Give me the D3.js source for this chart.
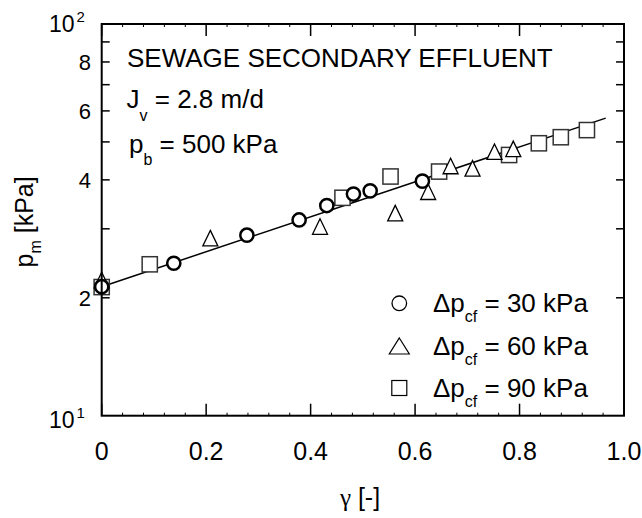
<!DOCTYPE html>
<html>
<head>
<meta charset="utf-8">
<script src="https://cdn.jsdelivr.net/npm/d3@7"></script>
<style>
  html, body { margin: 0; padding: 0; background: #fff; }
  svg { display: block; }
  text { font-family: "Liberation Sans", Arial, Helvetica, sans-serif; fill: #000; }
</style>
</head>
<body>
<svg id="chart" width="642" height="518"></svg>
<script>
// ---------------- data ----------------
// Δp_cf = 30 kPa (circles)
const circleX = [0, 0.138, 0.278, 0.378, 0.431, 0.482, 0.514, 0.614];
const circleY = [21.35, 24.5, 28.9, 31.6, 34.4, 36.8, 37.5, 39.7];
// Δp_cf = 60 kPa (triangles)
const triangleX = [0, 0.208, 0.418, 0.562, 0.625, 0.668, 0.710, 0.752, 0.788];
const triangleY = [22.2, 28.4, 30.4, 32.9, 37.3, 43.4, 42.8, 47.2, 48.0];
// Δp_cf = 90 kPa (squares)
const squareX = [0, 0.092, 0.461, 0.553, 0.646, 0.780, 0.837, 0.879, 0.929];
const squareY = [21.3, 24.35, 36.0, 40.8, 42.0, 46.3, 49.6, 51.4, 53.6];
// fitted line (end points)
const fitX = [0, 0.965];
const fitY = [21.35, 57.5];

// axes
const xMajorTicks = [0, 0.2, 0.4, 0.6, 0.8, 1.0];
const xTickLabels = ["0", "0.2", "0.4", "0.6", "0.8", "1.0"];
const xMinorTicks = [0.04, 0.08, 0.12, 0.16, 0.24, 0.28, 0.32, 0.36, 0.44, 0.48, 0.52, 0.56,
                     0.64, 0.68, 0.72, 0.76, 0.84, 0.88, 0.92, 0.96];
const yTicks = [20, 30, 40, 50, 60, 70, 80, 90];
const yLabelValues = [20, 40, 60, 80];
const yLabelTexts = ["2", "4", "6", "8"];

const legendLabels = ["30 kPa", "60 kPa", "90 kPa"];
const legendShapes = ["circle", "triangle", "square"];

// ---------------- layout ----------------
const svg = d3.select("#chart");
const pLeft = 101.7, pRight = 624, pTop = 24, pBottom = 415.7;
const x = d3.scaleLinear().domain([0, 1]).range([pLeft, pRight]);
const y = d3.scaleLog().domain([10, 100]).range([pBottom, pTop]);

const FONT = 25;
const TFONT = 26;

// ---------------- fit line ----------------
const line = d3.line().x(d => x(d[0])).y(d => y(d[1]));
svg.append("path")
  .attr("d", line(d3.zip(fitX, fitY)))
  .attr("fill", "none").attr("stroke", "#000").attr("stroke-width", 1.5);

// ---------------- markers ----------------
function triPath(w, h) {
  return `M0,${-h/2}L${w/2},${h/2}L${-w/2},${h/2}Z`;
}
svg.append("g").selectAll("rect")
  .data(d3.zip(squareX, squareY)).join("rect")
  .attr("x", d => x(d[0]) - 7.6).attr("y", d => y(d[1]) - 7.6)
  .attr("width", 15.2).attr("height", 15.2)
  .attr("fill", "#fff").attr("stroke", "#333").attr("stroke-width", 1.5);

svg.append("g").selectAll("path")
  .data(d3.zip(triangleX, triangleY)).join("path")
  .attr("transform", d => `translate(${x(d[0])},${y(d[1])})`)
  .attr("d", triPath(15, 15.5))
  .attr("fill", "#fff").attr("stroke", "#000").attr("stroke-width", 1.3);

svg.append("g").selectAll("circle")
  .data(d3.zip(circleX, circleY)).join("circle")
  .attr("cx", d => x(d[0])).attr("cy", d => y(d[1])).attr("r", 6.6)
  .attr("fill", "#fff").attr("stroke", "#000").attr("stroke-width", 2.5);

// ---------------- frame & ticks ----------------
const axisG = svg.append("g").attr("stroke", "#000");
axisG.append("rect")
  .attr("x", pLeft).attr("y", pTop).attr("width", pRight - pLeft).attr("height", pBottom - pTop)
  .attr("fill", "none").attr("stroke-width", 2);

xMajorTicks.forEach(v => {
  axisG.append("line").attr("x1", x(v)).attr("x2", x(v)).attr("y1", pBottom).attr("y2", pBottom - 12).attr("stroke-width", 1.5);
  axisG.append("line").attr("x1", x(v)).attr("x2", x(v)).attr("y1", pTop).attr("y2", pTop + 12).attr("stroke-width", 1.5);
});
xMinorTicks.forEach(v => {
  axisG.append("line").attr("x1", x(v)).attr("x2", x(v)).attr("y1", pBottom).attr("y2", pBottom - 3).attr("stroke-width", 1);
  axisG.append("line").attr("x1", x(v)).attr("x2", x(v)).attr("y1", pTop).attr("y2", pTop + 3).attr("stroke-width", 1);
});
yTicks.forEach(v => {
  axisG.append("line").attr("x1", pLeft).attr("x2", pLeft + 8).attr("y1", y(v)).attr("y2", y(v)).attr("stroke-width", 1.5);
  axisG.append("line").attr("x1", pRight).attr("x2", pRight - 8).attr("y1", y(v)).attr("y2", y(v)).attr("stroke-width", 1.5);
});

// ---------------- tick labels ----------------
svg.append("g").selectAll("text")
  .data(d3.zip(xMajorTicks, xTickLabels)).join("text")
  .attr("x", d => x(d[0])).attr("y", 460)
  .attr("text-anchor", "middle").attr("font-size", FONT)
  .text(d => d[1]);

svg.append("g").selectAll("text")
  .data(d3.zip(yLabelValues, yLabelTexts)).join("text")
  .attr("x", 91).attr("y", d => y(d[0]))
  .attr("dy", "0.36em")
  .attr("text-anchor", "end").attr("font-size", 22)
  .text(d => d[1]);

function powLabel(exp, base) {
  const t = svg.append("text").attr("x", 49).attr("y", base).attr("font-size", 23);
  t.append("tspan").text("10");
  t.append("tspan").attr("font-size", 15).attr("dx", 2).attr("dy", -10).text(exp);
}
powLabel("2", y(100) + 8);
powLabel("1", y(10) + 12.5);

// ---------------- axis titles ----------------
const xt = svg.append("text").attr("x", 360).attr("y", 506).attr("text-anchor", "middle").attr("font-size", FONT);
xt.append("tspan").attr("font-family", "'Liberation Serif', 'Times New Roman', serif").text("γ");
xt.append("tspan").text(" [-]");

const yt = svg.append("text")
  .attr("transform", `translate(33,${(pTop + pBottom) / 2 + 2}) rotate(-90)`)
  .attr("text-anchor", "middle").attr("font-size", FONT);
yt.append("tspan").text("p");
yt.append("tspan").attr("font-size", 16).attr("dy", 8).text("m");
yt.append("tspan").attr("dy", -8).text(" [kPa]");

// ---------------- annotations ----------------
svg.append("text").attr("x", 127).attr("y", 66.7).attr("font-size", TFONT).text("SEWAGE SECONDARY EFFLUENT");
const j = svg.append("text").attr("x", 126.5).attr("y", 108.3).attr("font-size", TFONT);
j.append("tspan").text("J");
j.append("tspan").attr("font-size", 16).attr("dy", 13).text("v");
j.append("tspan").attr("dy", -13).text(" = 2.8 m/d");
const pb = svg.append("text").attr("x", 129).attr("y", 153.3).attr("font-size", TFONT);
pb.append("tspan").text("p");
pb.append("tspan").attr("font-size", 16).attr("dy", 12).text("b");
pb.append("tspan").attr("dy", -12).text(" = 500 kPa");

// ---------------- legend ----------------
const legRowY = [303.3, 346, 388];
const legG = svg.append("g");
legendShapes.forEach((s, i) => {
  const cx = 399.3, cy = legRowY[i];
  if (s === "circle") {
    legG.append("circle").attr("cx", cx).attr("cy", cy).attr("r", 7.3)
      .attr("fill", "#fff").attr("stroke", "#000").attr("stroke-width", 1.3);
  } else if (s === "triangle") {
    legG.append("path").attr("transform", `translate(${cx},${cy})`).attr("d", triPath(20, 16))
      .attr("fill", "#fff").attr("stroke", "#000").attr("stroke-width", 1.2);
  } else {
    legG.append("rect").attr("x", cx - 7.5).attr("y", cy - 7.5).attr("width", 15).attr("height", 15)
      .attr("fill", "#fff").attr("stroke", "#000").attr("stroke-width", 1.2);
  }
  const t = legG.append("text").attr("x", 433).attr("y", cy + 8.5).attr("font-size", TFONT);
  t.append("tspan").text("Δp");
  t.append("tspan").attr("font-size", 16).attr("dy", 10).text("cf");
  t.append("tspan").attr("dy", -10).text(" = " + legendLabels[i]);
});
</script>
</body>
</html>
